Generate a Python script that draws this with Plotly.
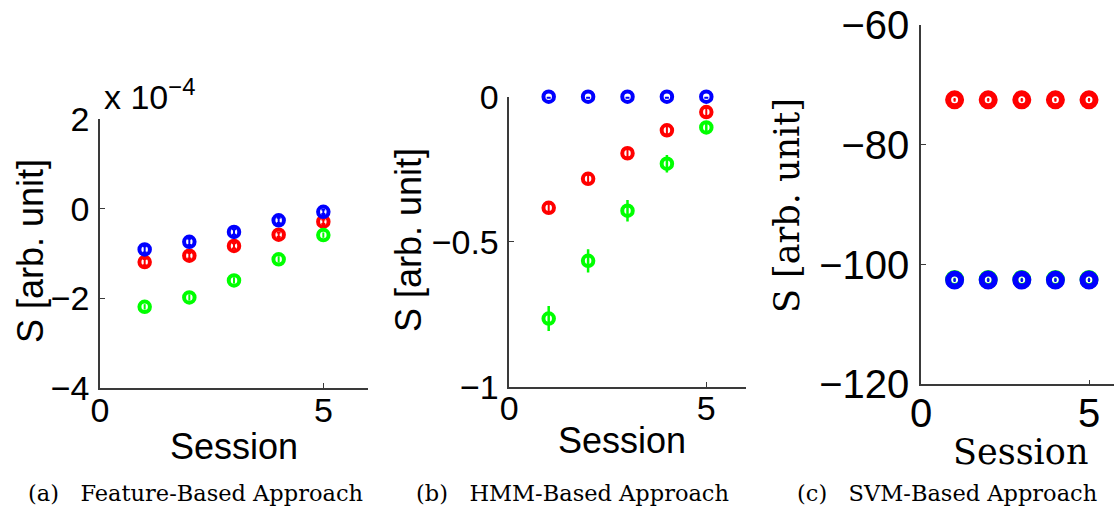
import plotly.graph_objects as go

W, H = 1114, 512

sessions = [1, 2, 3, 4, 5]

# (a) Feature-based approach (values in arbitrary units, true scale ~1e-4)
feat_red = [-1.19e-4, -1.05e-4, -0.83e-4, -0.58e-4, -0.29e-4]
feat_green = [-2.19e-4, -1.98e-4, -1.60e-4, -1.13e-4, -0.59e-4]
feat_blue = [-0.91e-4, -0.74e-4, -0.52e-4, -0.26e-4, -0.07e-4]
feat_red_err = [0.07e-4, 0.06e-4, 0.06e-4, 0.05e-4, 0.05e-4]
feat_green_err = [0.06e-4, 0.07e-4, 0.07e-4, 0.07e-4, 0.06e-4]
feat_blue_err = [0.07e-4, 0.07e-4, 0.06e-4, 0.06e-4, 0.05e-4]
FEAT_SCALE = 1e4

# (b) HMM-based approach
hmm_red = [-0.383, -0.283, -0.195, -0.116, -0.053]
hmm_green = [-0.765, -0.566, -0.393, -0.231, -0.106]
hmm_blue = [0.0, 0.0, 0.0, 0.0, 0.0]
hmm_red_err = [0.015, 0.015, 0.015, 0.015, 0.015]
hmm_green_err = [0.043, 0.040, 0.037, 0.030, 0.020]
hmm_blue_err = [0.004, 0.004, 0.004, 0.004, 0.004]

# (c) SVM-based approach
svm_red = [-72.5, -72.5, -72.5, -72.5, -72.5]
svm_green = [-102.5, -102.5, -102.5, -102.5, -102.5]
svm_blue = [-102.6, -102.6, -102.6, -102.6, -102.6]
svm_err = [0.05, 0.05, 0.05, 0.05, 0.05]

captions = ["(a)\u00a0\u00a0 Feature-Based Approach", "(b)\u00a0\u00a0 HMM-Based Approach",
            "(c)\u00a0\u00a0 SVM-Based Approach"]

RED, GREEN, BLUE = "#FF0000", "#00FF00", "#0000FF"
SANS = "Liberation Sans, Arial, Helvetica, sans-serif"
SERIF = "DejaVu Serif, serif"

fig = go.Figure()


def add_series(xref, yref, ys, errs, color, size, lw, ethick, ewidth):
    fig.add_trace(go.Scatter(
        x=sessions, y=ys, mode="markers", xaxis=xref, yaxis=yref,
        marker=dict(symbol="circle-open", size=size, color=color,
                    line=dict(width=lw, color=color)),
        error_y=dict(type="data", array=errs, visible=True, color=color,
                     thickness=ethick, width=ewidth),
        showlegend=False, hoverinfo="skip", cliponaxis=False))


# panel a
sa = lambda v: [t * FEAT_SCALE for t in v]
add_series("x", "y", sa(feat_red), sa(feat_red_err), RED, 10.5, 4, 2, 2)
add_series("x", "y", sa(feat_green), sa(feat_green_err), GREEN, 10.5, 4, 2, 0)
add_series("x", "y", sa(feat_blue), sa(feat_blue_err), BLUE, 10.5, 4, 2, 2)
# panel b
add_series("x2", "y2", hmm_red, hmm_red_err, RED, 10.5, 4, 2, 2)
add_series("x2", "y2", hmm_green, hmm_green_err, GREEN, 10.5, 4, 2.5, 0)
add_series("x2", "y2", hmm_blue, hmm_blue_err, BLUE, 10.5, 4, 2, 2)
# panel c
add_series("x3", "y3", svm_red, svm_err, RED, 13, 6, 3, 1)
add_series("x3", "y3", svm_green, svm_err, GREEN, 13, 6, 3, 1)
add_series("x3", "y3", svm_blue, svm_err, BLUE, 13, 6, 3, 1)

AXCOL = "#3a3a3a"


def ax(domain, rng, tickvals, ticktext, size, anchor):
    return dict(domain=domain, range=rng, tickvals=tickvals, ticktext=ticktext,
                showgrid=False, zeroline=False, showline=True, linecolor=AXCOL,
                linewidth=1.5, ticks="inside", ticklen=5, tickwidth=1,
                tickcolor=AXCOL, tickfont=dict(family=SANS, size=size, color="black"),
                anchor=anchor, fixedrange=True, automargin=False)


def px_x(p):
    return p / W


def px_y(p):
    return 1 - p / H


fig.update_layout(
    width=W, height=H, margin=dict(l=0, r=0, t=0, b=0, pad=0, autoexpand=False),
    paper_bgcolor="white", plot_bgcolor="white",
    xaxis=ax([px_x(100), px_x(368)], [0, 6], [0, 5], ["0", "5"], 34, "y"),
    yaxis=ax([px_y(388), px_y(119)], [-4, 2], [-4, -2, 0, 2], ["\u22124", "\u22122", "0", "2"], 34, "x"),
    xaxis2=ax([px_x(509.3), px_x(745.7)], [0, 6], [0, 5], ["0", "5"], 34, "y2"),
    yaxis2=ax([px_y(386.7), px_y(96.7)], [-1, 0], [-1, -0.5, 0], ["\u22121", "\u22120.5", "0"], 34, "x2"),
    xaxis3=ax([px_x(921), 1.0], [0, (1114 - 921) / 33.6], [0, 5], ["0", "5"], 40, "y3"),
    yaxis3=ax([px_y(384.3), px_y(25)], [-120, -60], [-120, -100, -80, -60],
              ["\u2212120", "\u2212100", "\u221280", "\u221260"], 40, "x3"),
)
fig.layout.xaxis.ticklabelstandoff = -9
fig.layout.xaxis2.ticklabelstandoff = -9
fig.layout.xaxis3.ticklabelstandoff = -7
for k in ["yaxis", "yaxis2", "yaxis3"]:
    fig.layout[k].ticklabelstandoff = 2

ann = []
# axis titles
ann.append(dict(text="Session", x=px_x(234), y=px_y(446), font=dict(family=SANS, size=36)))
ann.append(dict(text="S [arb. unit]", x=px_x(30), y=px_y(251), textangle=-90, font=dict(family=SANS, size=36)))
ann.append(dict(text="Session", x=px_x(622), y=px_y(440), font=dict(family=SANS, size=36)))
ann.append(dict(text="S [arb. unit]", x=px_x(408), y=px_y(240), textangle=-90, font=dict(family=SANS, size=36)))
ann.append(dict(text="Session", x=px_x(1020), y=px_y(452), font=dict(family=SERIF, size=35)))
ann.append(dict(text="S [arb. unit]", x=px_x(787), y=px_y(206), textangle=-90, font=dict(family=SERIF, size=35)))
# exponent
ann.append(dict(text="x 10<sup>\u22124</sup>", x=px_x(102), y=px_y(118), xanchor="left", yanchor="bottom",
                font=dict(family=SANS, size=34)))
# captions
for cx, txt in zip([195, 572, 947], captions):
    ann.append(dict(text=txt, x=px_x(cx), y=px_y(493), font=dict(family=SERIF, size=22.5)))

for a in ann:
    a.setdefault("xanchor", "center")
    a.setdefault("yanchor", "middle")
    a.update(xref="paper", yref="paper", showarrow=False)
    a["font"]["color"] = "black"
fig.update_layout(annotations=ann)

fig.write_html("out.html")
